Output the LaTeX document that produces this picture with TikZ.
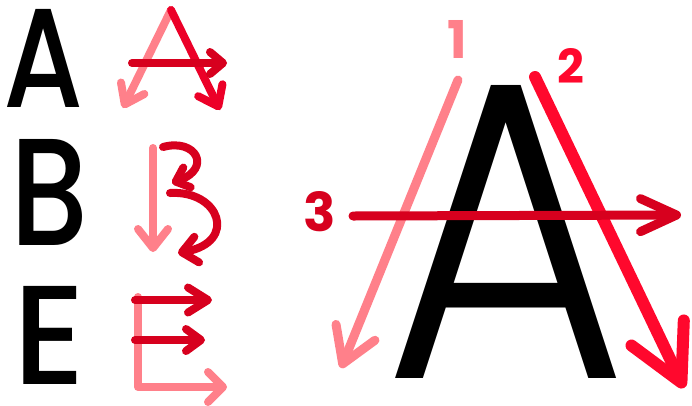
\documentclass[tikz,border=0pt]{standalone}
\usepackage{fontspec}
\setmainfont{Poppins}
\newfontfamily\lightfont{Poppins}[UprightFont={* Light}]
\newfontfamily\mediumfont{Poppins}[UprightFont={* Medium}]
\usetikzlibrary{arrows.meta}
\definecolor{pinkc}{RGB}{255,128,138}
\definecolor{redc}{RGB}{236,0,40}
\definecolor{brightred}{RGB}{255,8,45}
\definecolor{darkred}{RGB}{215,0,30}
\begin{document}
\begin{tikzpicture}[x=1pt,y=-1pt,
  pen/.style={line cap=round,line join=round},
  smallpen/.style={pen,line width=8pt},
  letter/.style={inner sep=0pt,outer sep=0pt,text=black},
  digit/.style={inner sep=0pt,outer sep=0pt}]
\fill[white] (0,0) rectangle (692,405);
\useasboundingbox (0,0) rectangle (692,405);

% black letters
\node[letter] (lA) at (44,58) {\resizebox{80pt}{98pt}{\mediumfont A}};
\node[letter] (lB) at (50,192) {\resizebox{78pt}{106pt}{\mediumfont B}};
\node[letter] (lE) at (50,335) {\resizebox{72pt}{98pt}{\mediumfont E}};
\node[letter] (bigA) at (506,232) {\resizebox{245pt}{292pt}{\lightfont A}};

% small A strokes
\coordinate (aTop) at (171,10);
\coordinate (aL) at (123,108);
\coordinate (aR) at (220,110);
\coordinate (aC1) at (132,63);
\coordinate (aC2) at (227,63);
\draw[smallpen,pinkc,-{Straight Barb[length=18pt,width=26pt,round]}] (aTop) -- (aL);
\draw[smallpen,redc,-{Straight Barb[length=18pt,width=27pt,round]}] (aTop) -- (aR);
\draw[smallpen,darkred,-{Straight Barb[length=13pt,width=22pt,round]}] (aC1) -- (aC2);

% small B strokes
\coordinate (bT) at (153,148);
\coordinate (bB) at (153,252);
\coordinate (b1s) at (163,147);
\coordinate (b1e) at (172,183);
\coordinate (b2s) at (170,193);
\coordinate (b2e) at (178,253);
\draw[smallpen,pinkc,-{Straight Barb[length=19pt,width=30pt,round]}] (bT) -- (bB);
\draw[smallpen,darkred,-{Straight Barb[length=12pt,width=21pt,round]}] (b1s) .. controls (196,138) and (212,168) .. (b1e);
\draw[smallpen,darkred,-{Straight Barb[length=15pt,width=26pt,round]}] (b2s) .. controls (220,190) and (238,242) .. (b2e);

% small E strokes
\coordinate (eT) at (138,297);
\coordinate (eC) at (138,387);
\coordinate (eB) at (227,387);
\coordinate (e1s) at (135,300);
\coordinate (e1e) at (212,300);
\coordinate (e2s) at (135,340);
\coordinate (e2e) at (205,340);
\draw[smallpen,pinkc,-{Straight Barb[length=15pt,width=30pt,round]}] (eT) -- (eC) -- (eB);
\draw[smallpen,darkred,-{Straight Barb[length=20pt,width=25pt,round]}] (e1s) -- (e1e);
\draw[smallpen,darkred,-{Straight Barb[length=15pt,width=22pt,round]}] (e2s) -- (e2e);

% big arrows
\coordinate (s1) at (458,80);
\coordinate (t1) at (341,368);
\coordinate (s2) at (535,77);
\coordinate (t2) at (684,388);
\coordinate (s3) at (353,216);
\coordinate (t3) at (681,215);
\draw[pen,line width=9pt,pinkc,-{Straight Barb[length=34pt,width=42pt,round]}] (s1) -- (t1);
\draw[pen,line width=12pt,brightred,-{Straight Barb[length=55pt,width=58pt,round]}] (s2) -- (t2);
\draw[pen,line width=9pt,darkred,-{Straight Barb[length=36pt,width=33pt,round]}] (s3) -- (t3);

% digits
\node[digit,text=pinkc] (n1) at (457,39) {\resizebox{!}{38pt}{\bfseries 1}};
\node[digit,text=brightred] (n2) at (571,66) {\resizebox{!}{35pt}{\bfseries 2}};
\node[digit,text=darkred] (n3) at (320,212) {\resizebox{!}{40pt}{\bfseries 3}};
\end{tikzpicture}
\end{document}
